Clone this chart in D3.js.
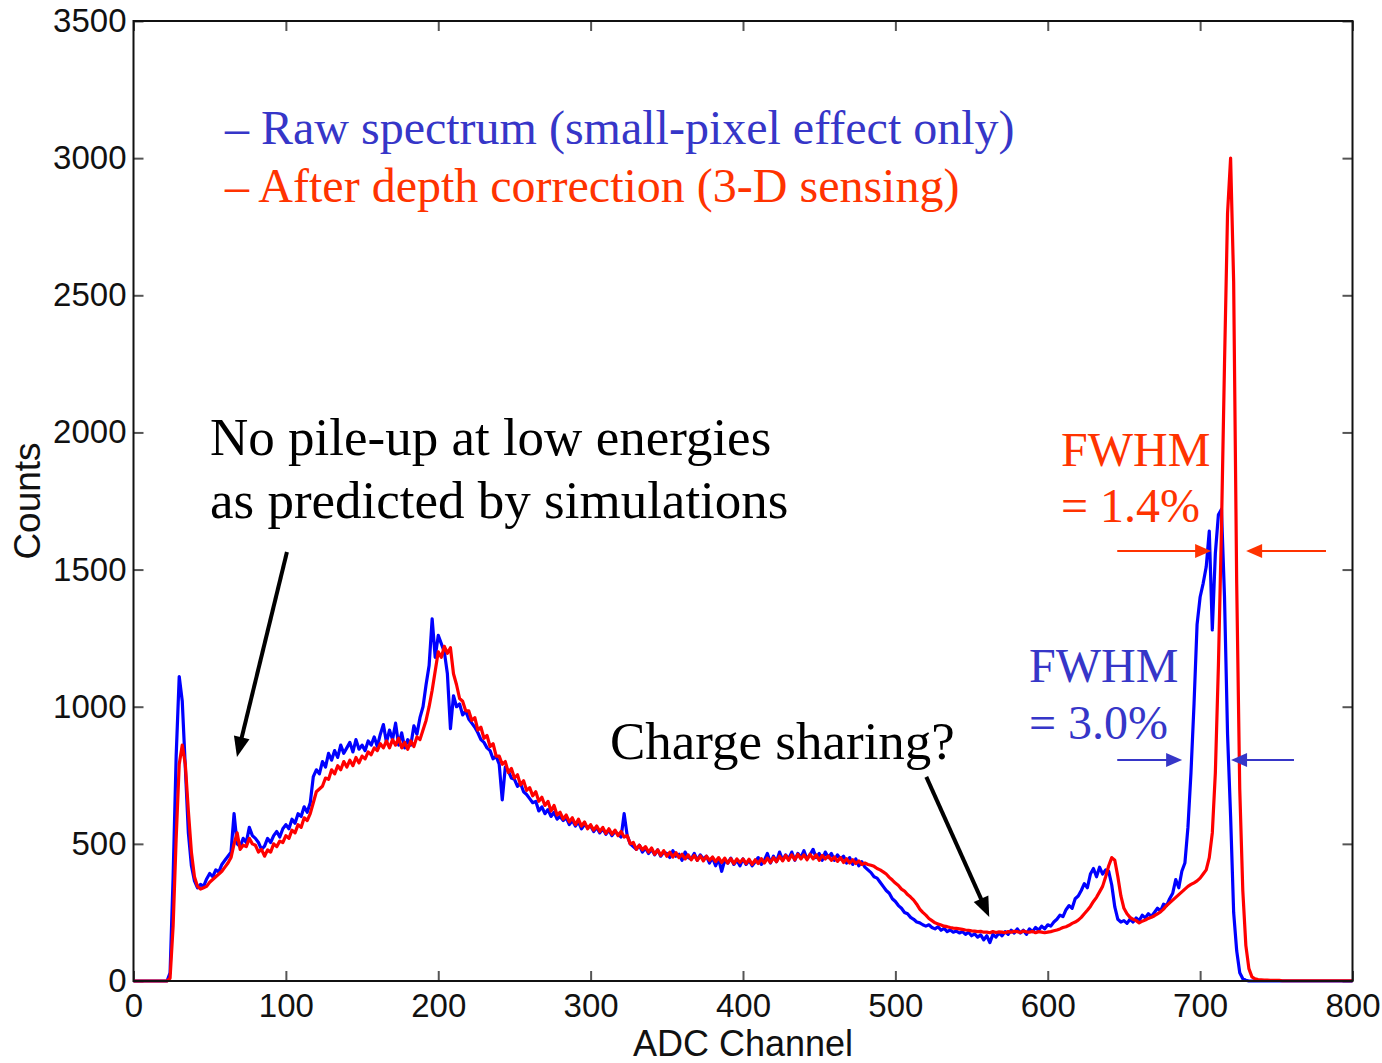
<!DOCTYPE html>
<html>
<head>
<meta charset="utf-8">
<script src="https://cdn.jsdelivr.net/npm/d3@7"></script>
<style>
  html, body { margin: 0; padding: 0; background: #fff; }
  svg { display: block; }
</style>
</head>
<body>
<svg id="chart" width="1382" height="1063"></svg>
<script>
// ---------------- data ----------------
const channelStart = 0;
const channelStep = 2;

// Raw spectrum (blue), channels 0..800 step 2
const rawSpectrum = [
  0,0,0,0,0,0,0,0,0,0,
  0,0,30,380,820,1110,1020,780,540,420,
  365,340,352,345,372,392,380,405,398,425,
  440,455,470,610,500,490,520,505,560,530,
  520,505,480,492,520,505,530,545,525,555,
  570,555,590,575,610,600,635,615,650,745,
  770,755,800,780,830,805,840,815,860,830,
  850,870,835,880,845,860,840,875,860,890,
  855,900,935,870,915,880,940,860,905,850,
  880,860,930,900,960,1000,1080,1150,1320,1180,
  1260,1230,1200,1120,920,1040,1000,1010,970,985,
  955,940,925,905,880,870,850,840,810,820,
  790,660,780,765,740,735,710,720,690,680,
  665,650,655,620,635,610,625,600,615,590,
  600,585,595,570,585,565,580,555,570,560,
  565,545,560,540,555,535,550,530,545,535,
  525,610,530,500,490,480,495,470,485,465,
  480,460,478,455,470,465,450,475,455,462,
  440,470,450,445,465,440,460,445,455,430,
  450,420,445,400,440,430,448,425,440,420,
  445,425,440,420,435,450,425,440,465,430,
  455,435,470,440,460,445,470,440,465,450,
  475,445,460,480,450,465,440,470,450,465,
  440,460,445,455,430,450,425,445,420,435,
  415,405,395,380,375,360,345,330,320,300,
  290,275,265,250,245,232,225,215,212,205,
  200,205,195,190,198,185,192,180,186,178,
  182,175,180,170,178,165,172,160,168,150,
  165,140,170,160,175,165,180,170,185,175,
  190,175,185,170,190,180,195,185,200,190,
  205,200,215,225,240,235,260,275,265,300,
  310,330,355,340,390,410,380,415,390,405,
  400,350,270,225,215,220,210,225,215,230,
  220,240,230,245,235,250,265,255,280,275,
  300,320,370,340,400,430,560,760,1010,1300,
  1400,1450,1510,1640,1280,1560,1700,1720,1400,900,
  600,250,110,30,8,3,0,0,0,0,
  0,0,0,0,0,0,0,0,0,0,
  0,0,0,0,0,0,0,0,0,0,
  0,0,0,0,0,0,0,0,0,0,
  0
];

// After depth correction (red), channels 0..800 step 2
const correctedSpectrum = [
  0,0,0,0,0,0,0,0,0,0,
  0,0,10,200,520,790,860,790,620,470,
  380,345,335,340,345,360,370,380,390,400,
  415,430,450,500,540,480,495,490,520,500,
  495,470,480,455,478,470,500,490,510,505,
  530,520,550,540,570,560,595,585,610,650,
  690,700,710,740,735,770,755,785,770,800,
  780,805,785,815,795,820,810,835,825,850,
  840,865,850,875,850,880,860,885,850,870,
  845,875,855,890,880,915,950,1000,1060,1130,
  1200,1180,1220,1195,1215,1120,1080,1030,1020,985,
  985,950,960,915,925,885,895,855,865,820,
  820,790,800,760,775,740,752,715,730,695,
  705,675,690,655,670,640,655,620,640,605,
  615,590,605,580,595,570,590,565,580,555,
  570,550,565,545,560,538,555,535,550,530,
  545,525,530,500,505,480,495,478,490,470,
  485,462,478,458,475,455,470,452,468,450,
  462,445,460,442,458,440,456,438,455,440,
  452,435,450,432,448,430,446,428,445,432,
  445,428,444,425,442,428,446,430,448,432,
  450,435,455,438,458,440,460,442,462,445,
  460,442,462,445,460,440,458,445,456,440,
  452,436,450,432,446,430,442,428,438,425,
  430,425,422,418,410,405,398,390,378,368,
  357,348,335,328,315,306,295,280,262,250,
  240,228,220,212,208,204,200,198,195,193,
  192,190,188,186,185,183,182,180,181,178,
  178,176,180,177,179,178,176,180,178,181,
  180,177,182,179,178,181,176,180,178,176,
  178,180,183,186,190,195,198,203,210,215,
  222,232,245,258,272,290,305,325,345,380,
  420,450,440,380,310,265,245,232,225,220,
  212,218,222,228,232,238,245,252,262,275,
  285,295,305,315,325,335,345,352,358,365,
  375,390,405,450,540,760,1150,1650,2250,2800,
  3000,2550,1450,700,330,130,45,15,8,5,
  4,3,3,2,2,2,2,1,1,1,
  1,1,1,1,1,1,1,1,1,1,
  1,1,1,1,1,1,1,1,1,1,
  1
];

const xTicks = [0, 100, 200, 300, 400, 500, 600, 700, 800];
const yTicks = [0, 500, 1000, 1500, 2000, 2500, 3000, 3500];

const xLabel = "ADC Channel";
const yLabel = "Counts";
const legendRaw = "\u2013 Raw spectrum (small-pixel effect only)";
const legendCorr = "\u2013 After depth correction (3-D sensing)";

// annotation arrows in data coordinates [channel, counts]
const pileupArrow = { from: [100.7, 1564], to: [67.9, 817] };
const sharingArrow = { from: [520.3, 744], to: [561.6, 233] };
const redFwhmArrows = [ { from: [645.6, 1568], to: [707.2, 1568] }, { from: [782.6, 1568], to: [730.2, 1568] } ];
const blueFwhmArrows = [ { from: [645.6, 806], to: [688.2, 806] }, { from: [761.6, 806], to: [720.3, 806] } ];

// ---------------- chart ----------------
const svg = d3.select("#chart");
const W = 1382, H = 1063;
svg.append("rect").attr("width", W).attr("height", H).attr("fill", "#fff");

const x = d3.scaleLinear().domain([0, 800]).range([133.5, 1352.5]);
const y = d3.scaleLinear().domain([0, 3500]).range([981, 21]);

const BLUE = "#0000ff", RED = "#ff0000";
const BLUE_TXT = "#3636c8", RED_TXT = "#ff3300";

const toPts = arr => arr.map((v, i) => [channelStart + i * channelStep, v]);
const line = d3.line().x(d => x(d[0])).y(d => y(d[1]));

const tickFont = "'Liberation Sans', Arial, Helvetica, sans-serif";
const serif = "'Liberation Serif', 'Times New Roman', Times, serif";

// axes
const gB = svg.append("g").attr("transform", `translate(0,${y(0)})`)
  .call(d3.axisBottom(x).tickValues(xTicks).tickSize(-10).tickPadding(13).tickFormat(d3.format("d")));
const gT = svg.append("g").attr("transform", `translate(0,${y(3500)})`)
  .call(d3.axisTop(x).tickValues(xTicks).tickSize(-10).tickFormat(""));
const gL = svg.append("g").attr("transform", `translate(${x(0)},0)`)
  .call(d3.axisLeft(y).tickValues(yTicks).tickSize(-10).tickPadding(7).tickFormat(d3.format("d")));
const gR = svg.append("g").attr("transform", `translate(${x(800)},0)`)
  .call(d3.axisRight(y).tickValues(yTicks).tickSize(-10).tickFormat(""));

[gB, gT, gL, gR].forEach(g => {
  g.select(".domain").remove();
  g.selectAll(".tick line").attr("stroke", "#555").attr("stroke-width", 2);
  g.selectAll(".tick text").attr("font-family", tickFont).attr("font-size", 33).attr("fill", "#111");
});

// data lines
svg.append("path").datum(toPts(rawSpectrum))
  .attr("d", line).attr("fill", "none").attr("stroke", BLUE)
  .attr("stroke-width", 3.2).attr("stroke-linejoin", "round");
svg.append("path").datum(toPts(correctedSpectrum))
  .attr("d", line).attr("fill", "none").attr("stroke", RED)
  .attr("stroke-width", 3.2).attr("stroke-linejoin", "round");

// frame
svg.append("rect")
  .attr("x", x(0)).attr("y", y(3500))
  .attr("width", x(800) - x(0)).attr("height", y(0) - y(3500))
  .attr("fill", "none").attr("stroke", "#111").attr("stroke-width", 2);

// axis titles
svg.append("text").text(xLabel)
  .attr("x", (x(0) + x(800)) / 2).attr("y", 1056)
  .attr("text-anchor", "middle").attr("font-family", tickFont).attr("font-size", 36).attr("fill", "#111");
svg.append("text").text(yLabel)
  .attr("transform", `translate(40,${(y(0) + y(3500)) / 2}) rotate(-90)`)
  .attr("text-anchor", "middle").attr("font-family", tickFont).attr("font-size", 37).attr("fill", "#111");

// legend
svg.append("text").text(legendRaw).attr("x", 225).attr("y", 144)
  .attr("font-family", serif).attr("font-size", 48).attr("fill", BLUE_TXT);
svg.append("text").text(legendCorr).attr("x", 225).attr("y", 202)
  .attr("font-family", serif).attr("font-size", 48).attr("fill", RED_TXT);

// annotations text
function label(lines, x0, y0, dy, size, color) {
  lines.forEach((t, i) => {
    svg.append("text").text(t).attr("x", x0).attr("y", y0 + i * dy)
      .attr("font-family", serif).attr("font-size", size).attr("fill", color);
  });
}
label(["No pile-up at low energies", "as predicted by simulations"], 210, 455, 63, 53, "#000");
label(["Charge sharing?"], 610, 759, 0, 53, "#000");
label(["FWHM", "= 1.4%"], 1061, 466, 56, 48, RED_TXT);
label(["FWHM", "= 3.0%"], 1029, 682, 57, 48, BLUE_TXT);

// arrows
function arrow(a, color, sw, L, hw) {
  const x1 = x(a.from[0]), y1 = y(a.from[1]), x2 = x(a.to[0]), y2 = y(a.to[1]);
  const dx = x2 - x1, dy = y2 - y1, len = Math.hypot(dx, dy);
  const ux = dx / len, uy = dy / len, nx = -uy, ny = ux;
  const bx = x2 - ux * L, by = y2 - uy * L;
  svg.append("line").attr("x1", x1).attr("y1", y1).attr("x2", bx + ux * 2).attr("y2", by + uy * 2)
    .attr("stroke", color).attr("stroke-width", sw);
  svg.append("polygon")
    .attr("points", [[x2, y2], [bx + nx * hw, by + ny * hw], [bx - nx * hw, by - ny * hw]].map(p => p.join(",")).join(" "))
    .attr("fill", color);
}
arrow(pileupArrow, "#000", 4, 20, 8);
arrow(sharingArrow, "#000", 4, 20, 8);
redFwhmArrows.forEach(a => arrow(a, RED_TXT, 2, 16, 7));
blueFwhmArrows.forEach(a => arrow(a, BLUE_TXT, 2, 16, 7));
</script>
</body>
</html>
